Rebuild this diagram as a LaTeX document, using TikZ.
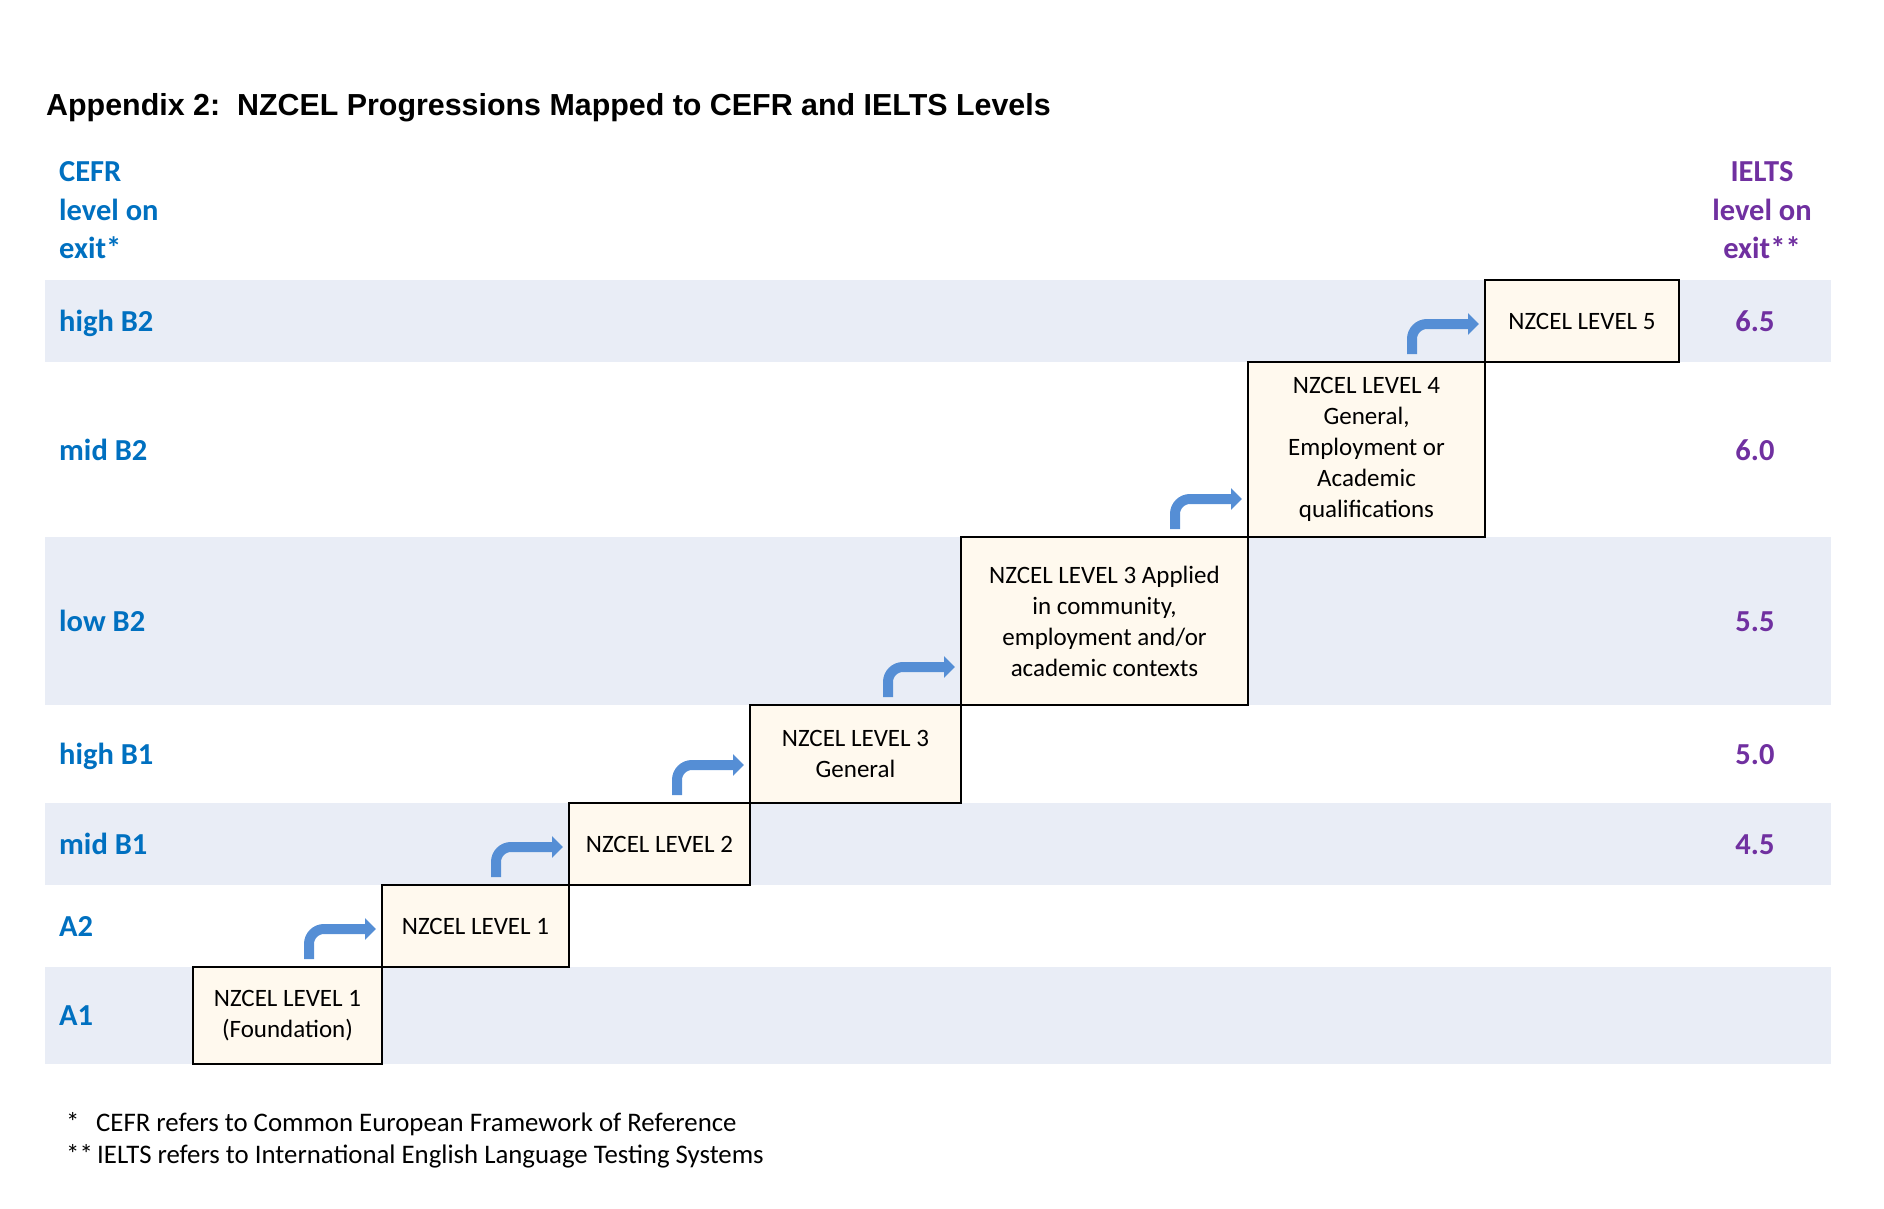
\documentclass[tikz,border=0pt]{standalone}
\usepackage{fontspec}
\setmainfont{Carlito}
\newfontfamily\titlefont{Liberation Sans}
\usetikzlibrary{positioning, arrows.meta}
\definecolor{bandblue}{RGB}{233,237,246}
\definecolor{cefrblue}{RGB}{0,112,192}
\definecolor{ieltspurple}{RGB}{112,48,160}
\definecolor{arrowblue}{RGB}{85,142,213}
\definecolor{cream}{RGB}{255,249,238}

\begin{document}
\begin{tikzpicture}
	% style
	[x=1pt, y=-1pt,
	band/.style={fill=bandblue},
	level/.style={rectangle, draw=black, fill=cream, line width=2.8pt, inner sep=0pt, outer sep=0pt, align=center, font=\fontsize{25}{31}\selectfont},
	cefr/.style={anchor=base west, text=cefrblue, inner sep=0pt, font=\fontsize{30.5}{38}\selectfont\bfseries},
	ielts/.style={anchor=base, text=ieltspurple, inner sep=0pt, font=\fontsize{30.5}{38}\selectfont\bfseries},
	note/.style={anchor=base west, inner sep=0pt, font=\fontsize{26.8}{32}\selectfont},
	bent/.style={draw=arrowblue, line width=10pt, rounded corners=15pt, -{Triangle[length=11pt, width=21pt]}}]

	\useasboundingbox (0,0) rectangle (1884,1208);

	% bands
	\foreach \ya/\yb in {280/362, 537/705, 803/885, 967/1064}
		\fill[band] (45,\ya) rectangle (1831,\yb);

	% title
	\node [anchor=base west, inner sep=0pt, font=\titlefont\fontsize{30.4}{36}\selectfont\bfseries] (title) at (46,115) {Appendix 2:\ \ NZCEL Progressions Mapped to CEFR and IELTS Levels};

	% column heads
	\node [cefr] (cefr_h1) at (59,181) {CEFR};
	\node [cefr] (cefr_h2) at (59,220) {level on};
	\node [cefr] (cefr_h3) at (59,258) {exit*};
	\node [ielts] (ielts_h1) at (1762,181) {IELTS};
	\node [ielts] (ielts_h2) at (1762,220) {level on};
	\node [ielts] (ielts_h3) at (1762,258) {exit**};

	% CEFR rows
	\foreach \n/\t/\y in {hb2/high B2/331, mb2/mid B2/460, lb2/low B2/631, hb1/high B1/764, mb1/mid B1/854, a2/A2/936, a1/A1/1025}
		\node [cefr] (cefr_\n) at (59,\y) {\t};

	% IELTS rows
	\foreach \n/\t/\y in {hb2/6.5/331, mb2/6.0/460, lb2/5.5/631, hb1/5.0/764, mb1/4.5/854}
		\node [ielts] (ielts_\n) at (1755,\y) {\t};

	% levels
	\node [level, minimum width=189, minimum height=97, anchor=north west] (F) at (193,967) {NZCEL LEVEL 1\\(Foundation)};
	\node [level, minimum width=187, minimum height=82] (L1) [above right=0pt and 0pt of F] {NZCEL LEVEL 1};
	\node [level, minimum width=181, minimum height=82] (L2) [above right=0pt and 0pt of L1] {NZCEL LEVEL 2};
	\node [level, minimum width=211, minimum height=98] (L3G) [above right=0pt and 0pt of L2] {NZCEL LEVEL 3\\General};
	\node [level, minimum width=287, minimum height=168] (L3A) [above right=0pt and 0pt of L3G] {NZCEL LEVEL 3 Applied\\in community,\\employment and/or\\academic contexts};
	\node [level, minimum width=237, minimum height=175] (L4) [above right=0pt and 0pt of L3A] {NZCEL LEVEL 4\\General,\\Employment or\\Academic\\qualifications};
	\node [level, minimum width=194, minimum height=82] (L5) [above right=0pt and 0pt of L4] {NZCEL LEVEL 5};

	% steps
	\foreach \a/\b in {F/L1, L1/L2, L2/L3G, L3G/L3A, L3A/L4, L4/L5}
		\draw [bent] ([xshift=-73pt, yshift=8pt]\a.north east) |- ([xshift=-6pt, yshift=38pt]\a.north east -| \b.west);

	% notes
	\node [note] (note_cefr) at (66,1131) {\makebox[30pt][l]{*}CEFR refers to Common European Framework of Reference};
	\node [note] (note_ielts) at (66,1163) {\makebox[31pt][l]{**}IELTS refers to International English Language Testing Systems};
\end{tikzpicture}
\end{document}
